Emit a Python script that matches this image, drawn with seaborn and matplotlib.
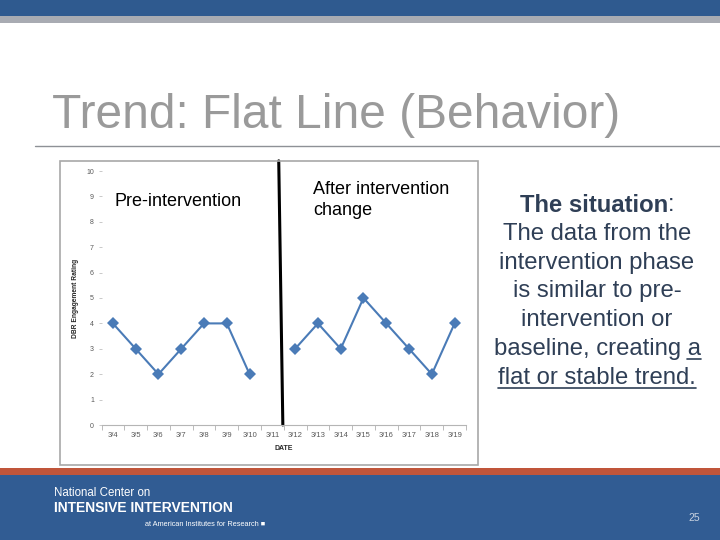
import matplotlib
matplotlib.use("Agg")
import matplotlib.pyplot as plt
from matplotlib.patches import Rectangle
from matplotlib.lines import Line2D
import seaborn as sns
import pandas as pd
import numpy as np

# data
dates = ["3/4", "3/5", "3/6", "3/7", "3/8", "3/9", "3/10", "3/11",
         "3/12", "3/13", "3/14", "3/15", "3/16", "3/17", "3/18", "3/19"]
pre_dates = ["3/4", "3/5", "3/6", "3/7", "3/8", "3/9", "3/10"]
pre_ratings = [4, 3, 2, 3, 4, 4, 2]
post_dates = ["3/12", "3/13", "3/14", "3/15", "3/16", "3/17", "3/18", "3/19"]
post_ratings = [3, 4, 3, 5, 4, 3, 2, 4]
y_ticks = list(range(0, 11))

W, H = 720, 540
BLUE = "#315c93"
TEXT = "#2f3f56"
LINE_BLUE = "#4a7bb7"

sns.set_style("white")
plt.rcParams["font.family"] = ["Liberation Sans", "DejaVu Sans"]

fig = plt.figure(figsize=(7.2, 5.4), dpi=100)


def fx(px):
    return px / W


def fy(py):
    return 1 - py / H


# slide decoration: top bars, footer
fig.add_artist(Rectangle((0, fy(16)), 1, 16 / H, transform=fig.transFigure,
                         color="#2f5a8f", lw=0))
fig.add_artist(Rectangle((0, fy(23)), 1, 7 / H, transform=fig.transFigure,
                         color="#a8abb2", lw=0))
fig.add_artist(Rectangle((0, 0), 1, fy(475), transform=fig.transFigure,
                         color=BLUE, lw=0))
fig.add_artist(Rectangle((0, fy(475)), 1, 7 / H, transform=fig.transFigure,
                         color="#c0553a", lw=0))

# title + rule
fig.text(fx(52), fy(116), "Trend: Flat Line (Behavior)", fontsize=34.5,
         color="#9a9a9a", va="center", ha="left")
fig.add_artist(Line2D([fx(35), 1], [fy(146), fy(146)], transform=fig.transFigure,
                      color="#8e9196", lw=1))

# chart frame
fig.add_artist(Rectangle((fx(60), fy(465)), 418 / W, 304 / H,
                         transform=fig.transFigure, fill=False,
                         edgecolor="#a8a8a8", lw=1.2))

# chart
ax = fig.add_axes([fx(101.5), fy(425), 364.5 / W, 254 / H])
df = pd.concat([
    pd.DataFrame({"date": pre_dates, "rating": pre_ratings, "phase": "pre"}),
    pd.DataFrame({"date": post_dates, "rating": post_ratings, "phase": "post"}),
])
df["pos"] = df["date"].map({d: i for i, d in enumerate(dates)})

sns.lineplot(data=df, x="pos", y="rating", hue="phase", style="phase",
             palette={"pre": LINE_BLUE, "post": LINE_BLUE},
             markers={"pre": "D", "post": "D"}, dashes=False,
             markersize=6, markeredgewidth=0, linewidth=1.5,
             legend=False, ax=ax)

ax.set_xlim(-0.5, len(dates) - 0.5)
ax.set_ylim(0, 10)
ax.set_xticks(range(len(dates)))
ax.set_xticklabels(dates, fontsize=5.5, color="#595959")
ax.set_xticks(np.arange(-0.5, len(dates), 1), minor=True)
ax.tick_params(axis="x", which="major", length=0, pad=5)
ax.tick_params(axis="x", which="minor", length=3.5, width=0.6, color="#b0b0b0",
               direction="out", bottom=True)
ax.set_yticks(y_ticks)
ax.set_yticklabels([str(v) for v in y_ticks], fontsize=5, color="#595959")
ax.tick_params(axis="y", length=2.5, width=0.6, color="#c0c0c0", pad=3, left=True)
for s in ["top", "right", "left"]:
    ax.spines[s].set_visible(False)
ax.spines["bottom"].set_color("#b5b5b5")
ax.spines["bottom"].set_linewidth(0.8)
ax.set_xlabel("DATE", fontsize=5, fontweight="bold", labelpad=4)
ax.set_ylabel("DBR Engagement Rating", fontsize=4.8, fontweight="bold", labelpad=5)
ax.set_facecolor("white")

# phase change line (slightly slanted as drawn on the slide)
ax.plot([7.28, 7.46], [10.4, 0], color="black", lw=2.2, clip_on=False)

# phase labels
fig.text(fx(115), fy(201), "Pre-intervention", fontsize=13, ha="left",
         va="center", color="black")
fig.text(fx(313), fy(200), "After intervention\nchange", fontsize=13,
         ha="left", va="center", color="black", linespacing=1.25)

# explanation text on the right
cx = 597
fs = 17.2
line_y = [205, 234, 263, 291, 320, 349, 378]
renderer = fig.canvas.get_renderer()


def width_px(s, **kw):
    t = fig.text(0, 0, s, fontsize=fs, **kw)
    w = t.get_window_extent(renderer).width
    t.remove()
    return w


# line 1: bold + plain colon
wb = width_px("The situation", fontweight="bold")
wc = width_px(":")
x0 = cx - (wb + wc) / 2
fig.text(fx(x0), fy(line_y[0]), "The situation", fontsize=fs, fontweight="bold",
         color=TEXT, ha="left", va="center")
fig.text(fx(x0 + wb), fy(line_y[0]), ":", fontsize=fs, color=TEXT,
         ha="left", va="center")

plain_lines = ["The data from the", "intervention phase", "is similar to pre-",
               "intervention or"]
for s, yy in zip(plain_lines, line_y[1:5]):
    fig.text(fx(cx), fy(yy), s, fontsize=fs, color=TEXT, ha="center", va="center")


def underline(xa, xb, yy):
    fig.add_artist(Line2D([fx(xa), fx(xb)], [fy(yy), fy(yy)],
                          transform=fig.transFigure, color=TEXT, lw=1.2))


# line 6: "a" underlined
w6 = width_px("baseline, creating a")
wa = width_px("a")
x6 = cx - w6 / 2
fig.text(fx(x6), fy(line_y[5]), "baseline, creating a", fontsize=fs, color=TEXT,
         ha="left", va="center")
underline(x6 + w6 - wa, x6 + w6, line_y[5] + 10)

# line 7: fully underlined
w7 = width_px("flat or stable trend.")
fig.text(fx(cx), fy(line_y[6]), "flat or stable trend.", fontsize=fs, color=TEXT,
         ha="center", va="center")
underline(cx - w7 / 2, cx + w7 / 2, line_y[6] + 10)

# footer text
fig.text(fx(54), fy(493), "National Center on", fontsize=8.3, color="white",
         ha="left", va="center")
fig.text(fx(54), fy(508), "INTENSIVE INTERVENTION", fontsize=10, color="white",
         fontweight="bold", ha="left", va="center")
fig.text(fx(145), fy(524), "at American Institutes for Research \u25a0", fontsize=5.3,
         color="white", ha="left", va="center")
fig.text(fx(700), fy(518), "25", fontsize=7.5, color="#c8d2e0", ha="right",
         va="center")

fig.savefig("out.png", dpi=100, facecolor="white")
